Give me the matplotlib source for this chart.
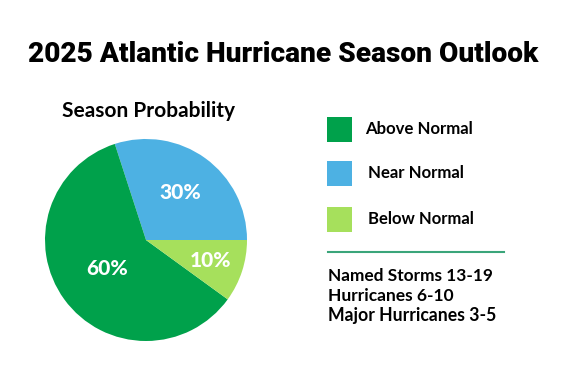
import numpy as np
import matplotlib.pyplot as plt
from matplotlib.patches import Rectangle
from matplotlib.lines import Line2D

# data
categories = ["Near Normal", "Above Normal", "Below Normal"]
probabilities = [30, 60, 10]
slice_colors = ["#4db1e3", "#00a14b", "#a6e05c"]
legend_order = ["Above Normal", "Near Normal", "Below Normal"]
outlook_lines = ["Named Storms 13-19", "Hurricanes 6-10", "Major Hurricanes 3-5"]

W, H = 569, 381
fig = plt.figure(figsize=(W / 100, H / 100), dpi=100)
fig.patch.set_facecolor("white")
renderer = fig.canvas.get_renderer()


def fit_width(txt, width_px):
    """ scale a text so that it spans width_px pixels """
    w = txt.get_window_extent(renderer).width
    txt.set_fontsize(txt.get_fontsize() * width_px / w)


title = fig.text(283 / W, 1 - 55 / H, "2025 Atlantic Hurricane Season Outlook",
                 ha="center", va="center", fontsize=19, fontweight="black",
                 family=["Roboto", "DejaVu Sans"], color="black")
fit_width(title, 510)

sub = fig.text(148 / W, 1 - 111 / H, "Season Probability", ha="center", va="center",
               fontsize=13, fontweight="bold", family=["Lato", "DejaVu Sans"])
fit_width(sub, 173)

# pie
ax = fig.add_axes([45 / W, 1 - 341 / H, 202 / W, 202 / H])
wedges, _ = ax.pie(probabilities, colors=slice_colors, startangle=0,
                   counterclock=True, radius=1)
ax.set_xlim(-1, 1)
ax.set_ylim(-1, 1)
ax.set_aspect("auto")
ax.axis("off")

label_dist = [0.58, 0.48, 0.67]
for w, p, d in zip(wedges, probabilities, label_dist):
    ang = np.deg2rad((w.theta1 + w.theta2) / 2)
    t = ax.text(d * np.cos(ang), d * np.sin(ang), f"{p}%", ha="center", va="center",
                color="white", fontsize=14, fontweight="black", family=["Lato", "DejaVu Sans"])
    fit_width(t, 42)

# legend
color_of = dict(zip(categories, slice_colors))
sq_top = [117, 161, 207]
text_x = [365, 368, 368]
text_w = [108, 96, 106]
for name, top, tx, tw in zip(legend_order, sq_top, text_x, text_w):
    fig.patches.append(Rectangle((327 / W, 1 - (top + 25) / H), 25 / W, 25 / H,
                                 transform=fig.transFigure, facecolor=color_of[name],
                                 edgecolor="none"))
    t = fig.text(tx / W, 1 - (top + 12) / H, name, ha="left", va="center", fontsize=11,
                 fontweight="bold", family=["Lato", "DejaVu Sans"])
    fit_width(t, tw)

fig.lines.append(Line2D([328 / W, 504 / W], [1 - 252 / H, 1 - 252 / H],
                        transform=fig.transFigure, color="#3aa57a", linewidth=1.5))

line_w = [164, 125, 167]
for i, (line, lw) in enumerate(zip(outlook_lines, line_w)):
    t = fig.text(328 / W, 1 - (276 + 20 * i) / H, line, ha="left", va="center",
                 fontsize=12, fontweight="bold", family=["Lato", "DejaVu Sans"])
    fit_width(t, lw)

fig.savefig("out.png", dpi=100)
